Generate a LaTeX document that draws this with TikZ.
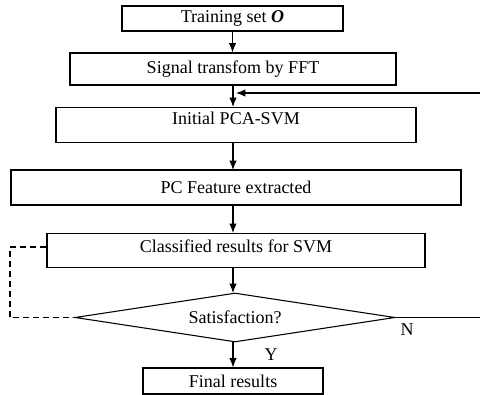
\documentclass[tikz,border=0pt]{standalone}
\usepackage{fontspec}
\setmainfont{Liberation Serif}
\usetikzlibrary{shapes.geometric, arrows.meta}
\begin{document}
\begin{tikzpicture}[
      x=0.75pt, y=-0.75pt,
      every node/.style={font=\fontsize{13.5}{15}\selectfont},
      stepbox/.style 2 args={rectangle, draw, line width=0.8pt, inner sep=0pt,
        minimum width=#1*0.75pt, minimum height=#2*0.75pt},
      decision/.style={diamond, draw, line width=0.8pt, inner sep=0pt, aspect=6.5,
        minimum width=320*0.75pt, minimum height=49*0.75pt},
      flow/.style={-{Latex[length=7pt,width=5.5pt]}, line width=0.8pt},
      tag/.style={font=\fontsize{13.5}{15}\selectfont}
  ]
  \useasboundingbox (0,0) rectangle (480,395);
  \clip (0,0) rectangle (480,395);

  % Boxes of the flow, top to bottom
  \node[stepbox={221}{25}] (train) at (232.5,18.5) {Training set \textbf{\textit{O}}};
  \node[stepbox={326}{32}] (fft) at (233,69) {Signal transfom by FFT};
  \node[stepbox={360}{35}, anchor=north] (init) at (236,107) {};
  \node at (236,118) {Initial PCA-SVM};
  \node[stepbox={450}{35}] (pcf) at (236,187.5) {PC Feature extracted};
  \node[stepbox={378}{34}, anchor=north] (svm) at (236,233) {};
  \node at (236,246) {Classified results for SVM};
  \node[decision] (sat) at (235,317.5) {Satisfaction?};
  \node[stepbox={180}{26}] (final) at (233,381) {Final results};

  % Feedback loop points
  \coordinate (loopin) at (236,93);
  \coordinate (farR) at (482,93);

  % Arrows connecting nodes
  \draw[flow] (train) -- (train |- fft.north);
  \draw[flow] (fft.south -| 233,0) -- (233,107);
  \draw[flow] (init.south -| 233,0) -- (233,170);
  \draw[flow] (pcf.south -| 233,0) -- (233,233);
  \draw[flow] (svm.south -| 233,0) -- (233,293);
  \draw[flow] (233,342) -- (final.north -| 233,0);
  \draw[flow] (sat.east) -| (farR) -- (loopin);
  \draw[dash pattern=on 4.5pt off 3pt, line width=0.8pt] (svm.west |- 0,247) -- (10,247) |- (sat.west);

  % Labels of the decision
  \node[tag] at (407,330) {N};
  \node[tag] at (271,355) {Y};

  \end{tikzpicture}
\end{document}
